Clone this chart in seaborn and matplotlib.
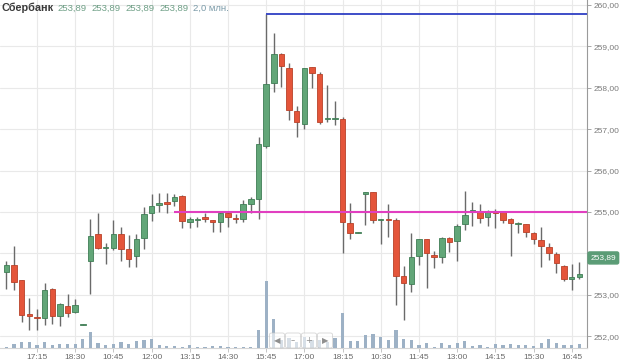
import matplotlib
matplotlib.use("Agg")
import matplotlib.pyplot as plt
import matplotlib.transforms as mtransforms
from matplotlib.patches import FancyBboxPatch
import numpy as np
import pandas as pd
import seaborn as sns

# ---------------- data ----------------
opens = [253.56,253.72,253.35,252.53,252.46,252.43,253.14,252.49,252.73,252.58,
         252.28,253.82,254.47,254.13,254.14,254.46,254.10,253.93,254.36,254.98,
         255.16,255.23,255.27,255.39,254.77,254.80,254.87,254.80,254.77,254.98,
         254.86,254.82,255.19,255.31,256.60,258.11,258.82,258.48,257.44,257.12,
         258.49,258.33,257.24,257.25,257.25,254.73,254.50,255.43,255.48,254.80,
         254.82,254.81,253.45,253.26,253.94,254.34,253.95,253.92,254.37,254.31,
         254.70,255.00,255.01,254.87,255.01,254.99,254.82,254.72,254.71,254.50,
         254.32,254.16,253.99,253.70,253.37,253.42]
highs = [253.82,254.19,253.36,252.93,252.66,253.29,253.16,252.81,253.01,252.91,
         252.30,254.82,254.97,254.24,254.81,254.64,254.44,254.47,255.11,255.43,
         255.45,255.47,255.43,255.40,254.89,254.87,254.97,254.81,255.01,255.01,
         254.95,255.29,255.37,256.82,259.78,259.33,258.84,258.61,257.56,258.48,
         258.50,258.39,258.07,257.69,257.30,255.22,254.52,255.49,255.49,254.82,
         255.19,254.85,253.70,254.49,254.35,254.35,254.06,254.40,254.39,254.71,
         255.51,255.23,255.19,255.05,255.07,255.00,254.85,254.77,254.72,254.52,
         254.64,254.24,254.04,253.72,253.74,253.80]
lows = [253.13,253.12,252.35,252.15,252.15,252.27,252.29,252.25,252.46,252.57,
        252.28,253.01,254.10,253.74,254.07,253.82,253.68,253.68,254.11,254.78,
        255.00,254.97,255.14,254.62,254.62,254.64,254.77,254.52,254.52,254.63,
        254.73,254.77,254.98,254.83,256.55,257.91,258.03,257.22,256.82,257.00,
        258.00,257.12,257.18,257.10,254.00,254.35,254.50,254.69,254.73,254.23,
        254.40,252.75,252.39,253.07,253.72,253.16,253.64,253.76,254.04,253.82,
        254.57,254.66,254.73,254.67,254.61,254.74,253.94,254.50,254.39,254.22,
        253.68,253.84,253.52,253.34,253.12,253.37]
closes = [253.72,253.32,252.51,252.48,252.43,253.12,252.49,252.78,252.55,252.75,
          252.30,254.42,254.14,254.15,254.46,254.11,253.87,254.34,254.95,255.14,
          255.22,255.19,255.36,254.79,254.83,254.82,254.82,254.77,254.98,254.87,
          254.82,255.19,255.31,256.64,258.08,258.82,258.53,257.46,257.18,258.47,
          258.35,257.18,257.26,257.26,254.77,254.49,254.52,255.48,254.81,254.82,
          254.80,253.45,253.28,253.91,254.34,254.02,253.92,254.36,254.28,254.67,
          254.93,255.05,254.85,255.03,254.98,254.81,254.74,254.74,254.52,254.34,
          254.18,254.00,253.76,253.37,253.42,253.50]
volumes = [1.3,4.3,6.3,6.3,3.3,6.3,3.3,4.3,4.3,4.3,
           8.7,16.3,5.3,3.3,4.3,6.3,4.3,7.3,8.0,9.0,
           3.3,2.3,2.3,1.3,3.3,1.3,1.3,2.3,2.3,1.3,
           1.3,1.3,1.3,18.0,67.0,29.0,8.0,10.0,6.0,11.0,
           7.7,8.0,6.0,10.0,35.0,6.7,6.7,13.3,14.3,11.0,
           7.7,18.3,9.3,7.7,2.7,5.3,1.3,5.3,2.7,5.3,
           7.0,2.0,3.3,1.3,4.3,2.7,3.7,2.7,2.7,2.0,
           5.3,9.3,5.3,3.3,3.3,4.3]
tick_labels = ["17:15", "18:30", "10:45", "12:00", "13:15", "14:30", "15:45", "17:00",
               "18:15", "10:30", "11:45", "13:00", "14:15", "15:30", "16:45"]
price_ticks = [252, 253, 254, 255, 256, 257, 258, 259, 260]
level_price = 255.0
level_start = 22
last_price = 253.89
title_name = "Сбербанк"
title_values = ["253,89", "253,89", "253,89", "253,89"]
title_volume = "2,0 млн."
nav_glyphs = ["◀", "–", "+", "▶"]

df = pd.DataFrame({"open": opens, "high": highs, "low": lows, "close": closes, "volume": volumes})
df["idx"] = np.arange(len(df))
df["up"] = df["close"] >= df["open"]

# ---------------- style ----------------
sns.set_theme(style="white")
plt.rcParams["font.family"] = ["Liberation Sans", "DejaVu Sans"]

W, H = 620, 362
fig = plt.figure(figsize=(W / 100, H / 100), dpi=100)
ax = fig.add_axes([0.0, 1 - 348 / H, 587 / W, 348 / H])
axv = ax.twinx()

GREEN, GREEN_E = "#62a678", "#3f7d55"
RED, RED_E = "#e4553a", "#b84129"
WICK = "#6a6a6a"
VOL = "#9db1c5"

# volume bars (seaborn) on an overlay axis
sns.barplot(data=df, x="idx", y="volume", native_scale=True, ax=axv,
            color=VOL, width=0.42, errorbar=None, saturation=1, linewidth=0,
            antialiased=False)
axv.set_ylim(0, 348)
axv.set_yticks([])
axv.set_ylabel("")
axv.set_xlabel("")
for s in axv.spines.values():
    s.set_visible(False)

ax.set_zorder(1)
axv.set_zorder(2)
axv.patch.set_visible(False)

# wicks
ax.vlines(df["idx"], df["low"], df["high"], color=WICK, lw=1.0, zorder=3)
# bodies
body_bottom = np.minimum(df["open"], df["close"])
body_h = np.maximum((df["close"] - df["open"]).abs(), 0.012)
fc = np.where(df["up"], GREEN, RED)
ec = np.where(df["up"], GREEN_E, RED_E)
ax.bar(df["idx"], body_h, bottom=body_bottom, width=0.72, color=fc,
       edgecolor=ec, linewidth=0.6, zorder=4)

# horizontal lines
imax = int(np.argmax(highs))
xmax = 76.0
ax.hlines(max(highs), imax, xmax, color="#2f3fc4", lw=1.3, zorder=5)
ax.hlines(level_price, level_start, xmax, color="#e13fc0", lw=1.5, zorder=5)

# axes config
ax.set_xlim(-0.84, xmax)
ax.set_ylim(251.715, 260.12)
ax.set_xticks(np.arange(4, 76, 5))
ax.set_xticklabels(tick_labels)
ax.yaxis.tick_right()
ax.set_yticks(price_ticks)
ax.set_yticklabels([f"{p:.2f}".replace(".", ",") for p in price_ticks])
ax.tick_params(axis="y", which="both", right=True, length=3, width=0.6, color="#999999",
               labelsize=6, labelcolor="#7a7a7a", pad=2)
ax.tick_params(axis="x", which="both", bottom=True, length=3, width=0.6, color="#bbbbbb",
               labelsize=6, labelcolor="#6a6a6a", pad=1)
ax.grid(True, color="#e9e9e9", lw=0.8)
ax.set_axisbelow(True)
for k in ["top", "left"]:
    ax.spines[k].set_visible(False)
ax.spines["right"].set_color("#9a9a9a")
ax.spines["right"].set_linewidth(0.8)
ax.spines["bottom"].set_color("#d6d6d6")
ax.spines["bottom"].set_linewidth(0.8)

# last price tag
trans = mtransforms.blended_transform_factory(ax.transAxes, ax.transData)
axv.text(1.006, last_price, f"{last_price:.2f}".replace(".", ","), transform=trans,
         ha="left", va="center", fontsize=6, color="white", zorder=10, clip_on=False,
         bbox=dict(boxstyle="round,pad=0.3,rounding_size=0.2", fc="#5b9c76", ec="#5b9c76"))

# title
fig.text(2 / W, 1 - 8 / H, title_name, fontsize=7.8, fontweight="bold", color="#3a3a3a",
         ha="left", va="center")
xs = [57, 91, 125, 159]
for x, t in zip(xs, title_values):
    fig.text(x / W, 1 - 8 / H, t, fontsize=6.8, color="#6e9f86", ha="left", va="center")
fig.text(193 / W, 1 - 8 / H, title_volume, fontsize=6.8, color="#7a9aa8", ha="left", va="center")

# navigation buttons
bx = [269, 285, 301, 317]
for g, x in zip(nav_glyphs, bx):
    p = FancyBboxPatch(((x + 0.5) / W, 1 - 348 / H), 15 / W, 15 / H,
                       boxstyle="round,pad=0,rounding_size=0.004",
                       transform=fig.transFigure, fc="white", ec="#c4c4c4", lw=0.7,
                       alpha=0.6, zorder=20)
    fig.patches.append(p)
    fig.text((x + 8) / W, 1 - 340.5 / H, g, fontsize=6, color="#8f8f8f", ha="center",
             va="center", family=["DejaVu Sans"], zorder=21)

fig.savefig("out.png", dpi=100)
